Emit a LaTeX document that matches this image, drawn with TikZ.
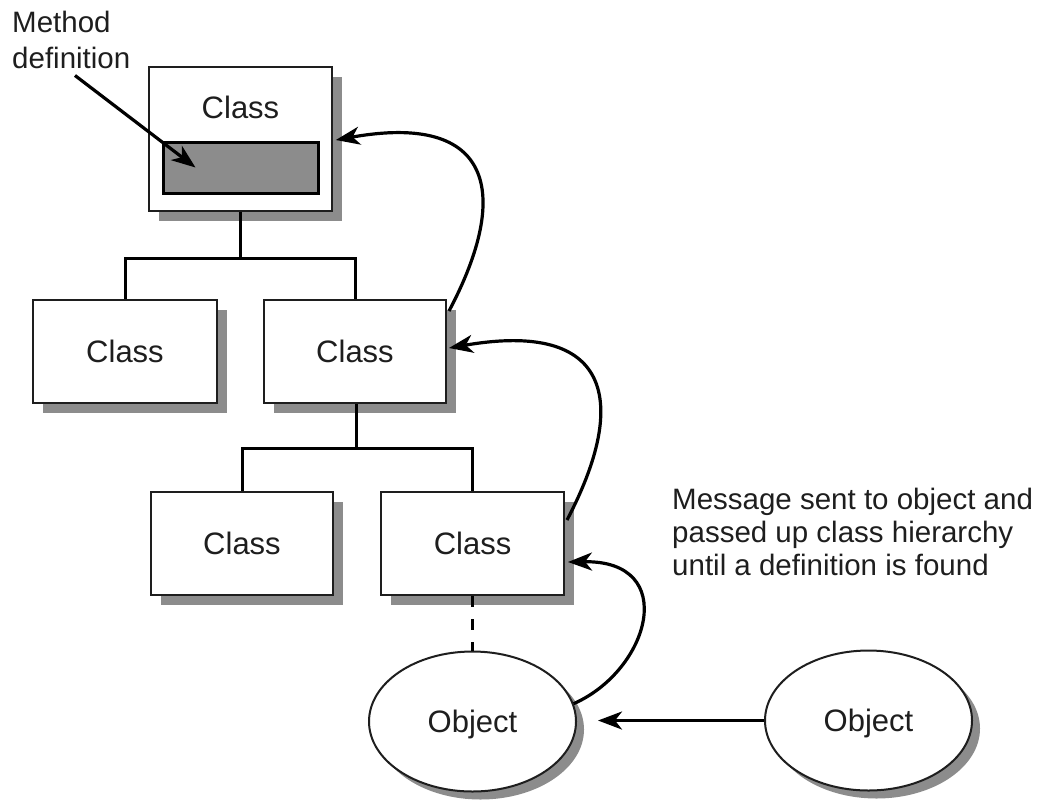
\documentclass[tikz,border=0pt]{standalone}
\usepackage{fontspec}
\setmainfont{Liberation Sans}
\usetikzlibrary{arrows.meta,shadows,shapes.geometric}
\definecolor{shgray}{RGB}{140,140,140}
\definecolor{ink}{RGB}{30,30,30}
\begin{document}
\begin{tikzpicture}[x=1pt,y=-1pt,
  lbl/.style={font=\fontsize{29.5}{33}\selectfont, text=ink, inner sep=0pt},
  boxshadow/.style={drop shadow={shadow xshift=10pt, shadow yshift=-10pt, fill=shgray, opacity=1}},
  classbox/.style={draw=ink, line width=2pt, fill=white, inner sep=0pt,
    minimum height=103pt, minimum width=183pt,
    font=\fontsize{31}{34}\selectfont, text=ink, text height=22pt, text depth=0pt, boxshadow},
  objnode/.style={ellipse, draw=ink, line width=2pt, fill=white, inner sep=0pt,
    minimum width=207pt, minimum height=140pt,
    font=\fontsize{31}{34}\selectfont, text=ink, text height=22pt, text depth=0pt,
    drop shadow={shadow xshift=8pt, shadow yshift=-8pt, fill=shgray, opacity=1}},
  link/.style={line width=3pt, draw=black},
  msg/.style={line width=3.2pt, draw=black, -{Stealth[length=24pt,width=18pt,inset=7pt]}},
]
\useasboundingbox (0,0) rectangle (1040,801);

% top class with method definition
\node[draw=ink, line width=1.6pt, fill=white, inner sep=0pt, minimum width=183pt, minimum height=144pt, boxshadow] (top) at (240.5,139) {};
\node[lbl, font=\fontsize{31}{34}\selectfont, text height=22pt, text depth=0pt] (toplabel) at (240.5,107) {Class};
\node[draw=black, line width=3pt, fill=shgray, inner sep=0pt, minimum width=155pt, minimum height=51pt] (meth) at (240.5,167.5) {};

% class boxes
\node[classbox, minimum width=184pt] (l2a) at (125,351.5) {Class};
\node[classbox, minimum width=182pt] (l2b) at (355,351.5) {Class};
\node[classbox, minimum width=182pt] (l3a) at (242,543.5) {Class};
\node[classbox, minimum width=183pt] (l3b) at (472.5,543.5) {Class};

% objects
\node[objnode] (o1) at (472.5,721.5) {Object};
\node[objnode] (o2) at (868.5,720.5) {Object};

% texts (base anchor = baseline of the last line)
\node[lbl, anchor=base west, align=left, font=\fontsize{29.5}{36}\selectfont] (md) at (12,68) {Method\\definition};
\node[lbl, anchor=base west, align=left] (note) at (672,575) {Message sent to object and\\passed up class hierarchy\\until a definition is found};

% hierarchy
\coordinate (j1) at (240.5,258);
\coordinate (j2) at (356,448);
\draw[link] (top.south) -- (j1);
\draw[link] (l2a.north) |- (j1) -| (l2b.north);
\draw[link] ([xshift=1pt]l2b.south) -- (j2);
\draw[link] (l3a.north) |- (j2) -| (l3b.north);
\draw[link, dash pattern=on 11pt off 12pt] (l3b.south) -- (o1.north);

% message arrows
\draw[msg, shorten >=21pt] (o2.west) -- (o2.west -| o1.east);
\draw[msg] (o1.10) .. controls (650,670) and (680,560) .. ([shift={(3,18.5)}]l3b.east);
\draw[msg] ([shift={(2,-23.5)}]l3b.east) .. controls (630,400) and (610,320) .. ([shift={(2,-3.5)}]l2b.east);
\draw[msg] ([shift={(2,12)}]l2b.north east) .. controls (512,192) and (492,112) .. ([shift={(3,1)}]top.east);
\draw[msg] ([shift={(63,7)}]md.south west) -- ([xshift=-45pt]meth.center);
\end{tikzpicture}
\end{document}
